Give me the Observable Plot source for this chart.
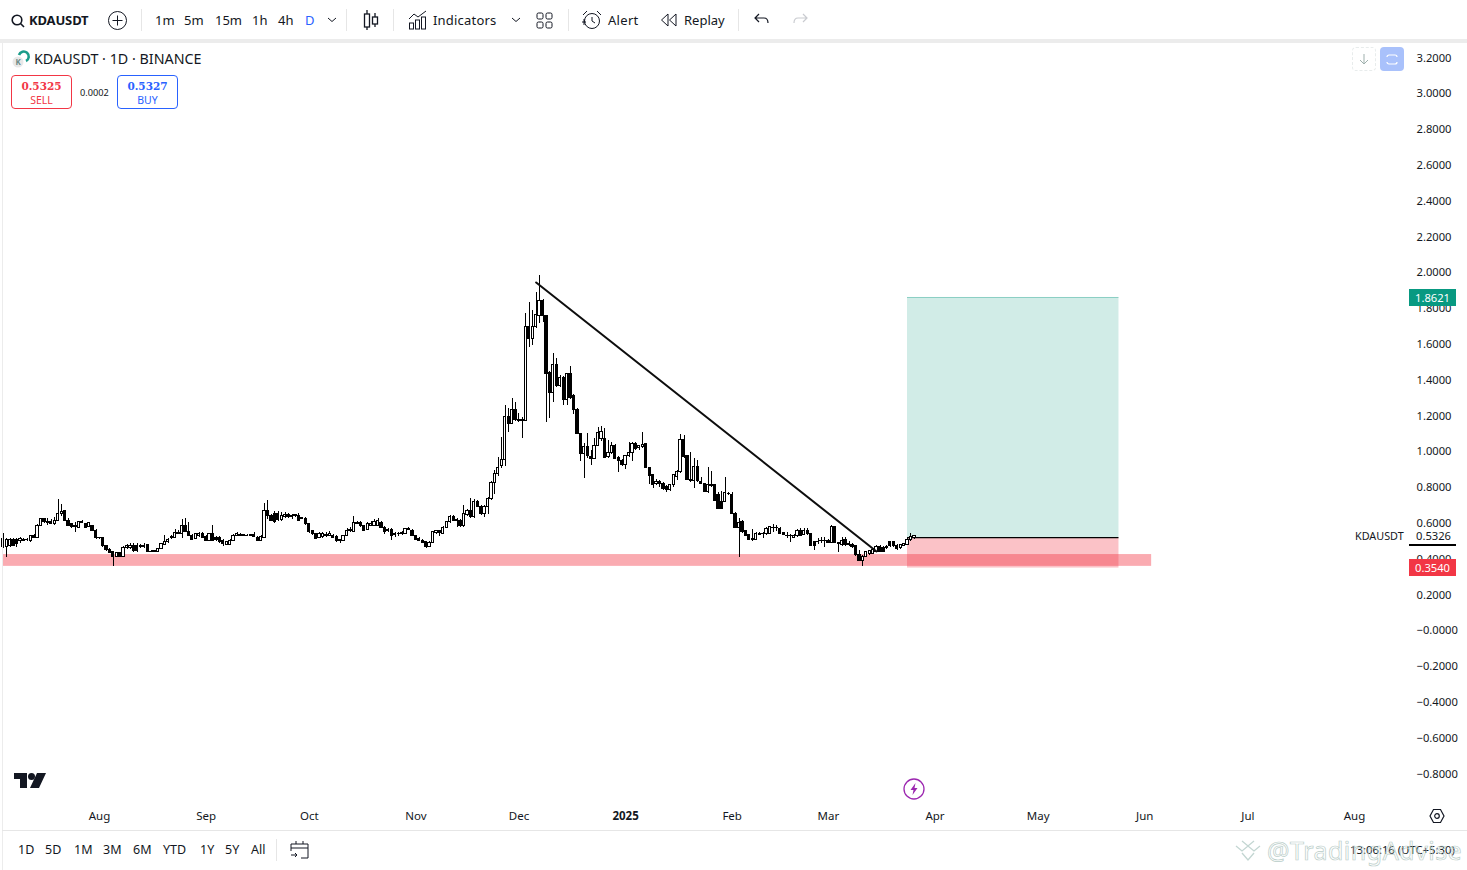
<!DOCTYPE html>
<html><head><meta charset="utf-8">
<script src="https://cdn.jsdelivr.net/npm/d3@7"></script>
<script src="https://cdn.jsdelivr.net/npm/@observablehq/plot@0.6"></script>
<style>
html,body{margin:0;padding:0;background:#fff;overflow:hidden}
body{position:relative;width:1467px;height:870px;font-family:"Noto Sans",sans-serif;color:#131722}
#chart{position:absolute;left:0;top:42px}
.t{position:absolute;white-space:nowrap;font-size:13px;line-height:16px;transform:translateY(-50%);z-index:3}
.sep{position:absolute;background:#e6e6e6;width:1px;z-index:3}
.ic{position:absolute;z-index:3;overflow:visible}
.box{position:absolute;z-index:3;box-sizing:border-box;border-radius:4px;text-align:center;width:61px;height:34px;top:75px;background:#fff}
.lab{position:absolute;left:1409px;width:47px;height:17px;color:#fff;font-size:11.2px;line-height:17px;text-align:center;z-index:3}
</style></head><body>
<div style="position:absolute;left:0;top:39px;width:1467px;height:4px;background:#ececec;z-index:2"></div>
<div style="position:absolute;left:2px;top:43px;width:1px;height:827px;background:#ececec;z-index:2"></div>
<div style="position:absolute;left:2px;top:830px;width:1465px;height:1px;background:#e6e6e6;z-index:2"></div>
<div id="chart"></div>

<svg class="ic" style="left:10px;top:13px" width="16" height="16" fill="none" stroke="#131722" stroke-width="1.6"><circle cx="7" cy="7" r="4.8"/><path d="M10.5 10.5 14 14"/></svg>
<div class="t" style="left:29px;top:20px;font-weight:700;font-size:13px;letter-spacing:-.15px">KDAUSDT</div>
<svg class="ic" style="left:107px;top:10px" width="21" height="21" fill="none" stroke="#131722"><circle cx="10.5" cy="10.5" r="9"/><path d="M10.5 5.5v10M5.5 10.5h10"/></svg>
<div class="sep" style="left:141px;top:9px;height:22px"></div>
<div class="t" style="left:155px;top:20px">1m</div>
<div class="t" style="left:184px;top:20px">5m</div>
<div class="t" style="left:215px;top:20px">15m</div>
<div class="t" style="left:252px;top:20px">1h</div>
<div class="t" style="left:278px;top:20px">4h</div>
<div class="t" style="left:305px;top:20px;color:#2962ff">D</div>
<svg class="ic" style="left:327px;top:17px" width="10" height="6" fill="none" stroke="#131722"><path d="M1 1l4 3.5L9 1"/></svg>
<div class="sep" style="left:346px;top:9px;height:22px"></div>
<svg class="ic" style="left:363px;top:10px" width="16" height="21" fill="none" stroke="#131722" stroke-width="1.3"><path d="M4 0v4M4 17v3M12 3v4M12 14v3"/><rect x="1.5" y="4" width="5" height="13"/><rect x="9.5" y="7" width="5" height="7"/></svg>
<div class="sep" style="left:393px;top:9px;height:22px"></div>
<svg class="ic" style="left:408px;top:10px" width="20" height="20" fill="none" stroke="#131722"><path d="M1 9l5-5 4 3 8-6"/><rect x="1.5" y="13" width="4" height="6"/><rect x="7.5" y="10" width="4" height="9"/><rect x="13.5" y="7" width="4" height="12"/></svg>
<div class="t" style="left:433px;top:20px;letter-spacing:.2px">Indicators</div>
<svg class="ic" style="left:511px;top:17px" width="10" height="6" fill="none" stroke="#131722"><path d="M1 1l4 3.5L9 1"/></svg>
<svg class="ic" style="left:536px;top:12px" width="18" height="17" fill="none" stroke="#131722"><rect x="1" y="1" width="6" height="6" rx="1.5"/><rect x="10" y="1" width="6" height="6" rx="1.5"/><rect x="1" y="10" width="6" height="6" rx="1.5"/><rect x="10" y="10" width="6" height="6" rx="1.5"/></svg>
<div class="sep" style="left:568px;top:9px;height:22px"></div>
<svg class="ic" style="left:581px;top:9px" width="22" height="22" fill="none" stroke="#131722"><circle cx="11" cy="12" r="7.5"/><path d="M11 8v4l3 2M2 6l4-4M16 2l4 4M1 13h4M3 10v6"/></svg>
<div class="t" style="left:608px;top:20px;letter-spacing:.3px">Alert</div>
<svg class="ic" style="left:660px;top:13px" width="18" height="14" fill="none" stroke="#131722"><path d="M8 1 1.5 7 8 13zM16 1 9.5 7 16 13z"/></svg>
<div class="t" style="left:684px;top:20px">Replay</div>
<div class="sep" style="left:738px;top:9px;height:22px"></div>
<svg class="ic" style="left:754px;top:13px" width="16" height="13" fill="none" stroke="#131722" stroke-width="1.2"><path d="M5 1 1 5l4 4M1 5h9c3 0 4 2 4 5"/></svg>
<svg class="ic" style="left:792px;top:13px" width="16" height="13" fill="none" stroke="#c9cbd0" stroke-width="1.2"><path d="M11 1l4 4-4 4M15 5H6C3 5 2 7 2 10"/></svg>

<svg class="ic" style="left:12px;top:50px" width="20" height="18"><circle cx="6" cy="12" r="5.5" fill="#e8e8e8"/><text x="3.5" y="15" font-size="8" font-weight="700" fill="#6b8a86">K</text><path d="M7 5a5 5 0 1 1 7 6" fill="none" stroke="#1b9c8a" stroke-width="2.6"/></svg>
<div class="t" style="left:34px;top:59px;font-size:14.3px">KDAUSDT · 1D · BINANCE</div>
<div class="box" style="left:11px;border:1px solid #f23645;color:#f23645"><div style="font:700 10.5px/16px 'DejaVu Serif',serif;margin-top:2px">0.5325</div><div style="font-size:10.5px;line-height:13px">SELL</div></div>
<div class="t" style="left:80px;top:92.5px;font-size:9.2px">0.0002</div>
<div class="box" style="left:117px;border:1px solid #2962ff;color:#2962ff"><div style="font:700 10.5px/16px 'DejaVu Serif',serif;margin-top:2px">0.5327</div><div style="font-size:10.5px;line-height:13px">BUY</div></div>

<div style="position:absolute;left:1352px;top:47px;width:24px;height:24px;box-sizing:border-box;border:1px dashed #e8ecec;border-radius:4px;z-index:3"></div>
<svg class="ic" style="left:1359px;top:54px" width="10" height="12" fill="none" stroke="#9fb0ad"><path d="M5 0v10M1 6l4 4 4-4"/></svg>
<div style="position:absolute;left:1380px;top:47px;width:24px;height:24px;background:#a9c1fb;border-radius:4px;z-index:3"></div>
<svg class="ic" style="left:1386px;top:54px" width="12" height="11" fill="none" stroke="#fff" stroke-width="1.2"><path d="M1 3a2 2 0 0 1 2-2h6a2 2 0 0 1 2 2M11 8a2 2 0 0 1-2 2H3a2 2 0 0 1-2-2"/></svg>

<div class="lab" style="top:289px;background:#089981">1.8621</div>
<div class="lab" style="top:559px;background:#f23645">0.3540</div>
<div class="t" style="left:1355px;top:536px;font-size:10.8px">KDAUSDT</div>
<div class="t" style="left:1416px;top:536px;font-size:11.2px">0.5326</div>
<div style="position:absolute;left:1409px;top:544px;width:47px;height:2px;background:#000;z-index:3"></div>

<svg class="ic" style="left:14px;top:773px" width="32" height="16" fill="#131722"><path d="M0 0h13v15H6V6H0z"/><circle cx="17.5" cy="3.5" r="3.5"/><path d="M23 0h9l-7 15h-9z"/></svg>
<svg class="ic" style="left:903px;top:778px" width="22" height="22" fill="none" stroke="#9c27b0" stroke-width="1.3"><circle cx="11" cy="11" r="10"/><path d="M12.5 5 7.5 12h3l-1 5 5-7h-3z" fill="#9c27b0" stroke="none"/></svg>
<svg class="ic" style="left:1429px;top:808px" width="16" height="16" fill="none" stroke="#131722" stroke-width="1.2"><path d="M4.5 1.5h7L15 8l-3.500 6.500h-7L1 8z"/><circle cx="8" cy="8" r="2.300"/></svg>

<div class="t" style="left:18px;top:850px;font-size:12.5px">1D</div>
<div class="t" style="left:45px;top:850px;font-size:12.5px">5D</div>
<div class="t" style="left:74px;top:850px;font-size:12.5px">1M</div>
<div class="t" style="left:103px;top:850px;font-size:12.5px">3M</div>
<div class="t" style="left:133px;top:850px;font-size:12.5px">6M</div>
<div class="t" style="left:163px;top:850px;font-size:12.5px">YTD</div>
<div class="t" style="left:200px;top:850px;font-size:12.5px">1Y</div>
<div class="t" style="left:225px;top:850px;font-size:12.5px">5Y</div>
<div class="t" style="left:251px;top:850px;font-size:12.5px">All</div>
<div class="sep" style="left:276px;top:839px;height:22px"></div>
<svg class="ic" style="left:290px;top:840px" width="20" height="20" fill="none" stroke="#131722"><path d="M1 11V4h17v14h-7M1 8h17M6 1v3M13 1v3M1 15h6M5 13l2 2-2 2"/></svg>

<svg class="ic" style="left:1235px;top:838px;z-index:4" width="28" height="24" fill="none" stroke="#c3d6d2" stroke-width="1.3"><path d="M1 8l6 5 6-5 6 5 6-5M7 3l6 5 6-5M7 15l6 7 6-7"/></svg>
<div class="t" style="left:1350px;top:850px;font-size:11.3px;z-index:3">13:06:16 (UTC+5:30)</div>
<div class="t" style="left:1267px;top:850px;font-size:25px;line-height:28px;color:transparent;-webkit-text-stroke:.7px #b9cdc8;z-index:4;letter-spacing:.5px">@TradingAdvise</div>

<script>
const startDate = "2024-07-04";
const opens = [
.467,.467,.471,.508,.508,.499,.504,.506,.504,.532,
.519,.588,.622,.607,.607,.594,.612,.653,.667,.616,
.594,.583,.575,.603,.598,.579,.583,.560,.519,.516,
.471,.454,.439,.411,.434,.411,.462,.462,.473,.471,
.467,.469,.477,.443,.441,.443,.458,.478,.497,.519,
.519,.547,.542,.588,.551,.532,.512,.532,.542,.523,
.501,.538,.519,.519,.504,.480,.480,.501,.532,.529,
.534,.529,.531,.536,.519,.504,.518,.672,.644,.650,
.650,.620,.635,.648,.640,.642,.644,.629,.627,.598,
.556,.542,.518,.523,.536,.531,.531,.523,.506,.501,
.529,.558,.551,.603,.601,.585,.564,.587,.585,.588,
.603,.575,.557,.564,.534,.540,.542,.542,.564,.560,
.529,.514,.504,.495,.467,.491,.549,.555,.542,.575,
.607,.638,.616,.616,.583,.649,.668,.635,.722,.694,
.653,.694,.737,.827,.877,.923,.955,1.197,1.156,1.231,
1.175,1.170,1.171,1.700,1.631,1.696,1.761,1.840,1.756,1.441,
1.328,1.486,1.370,1.413,1.287,1.436,1.309,1.235,1.100,.989,
1.026,.970,.961,1.035,1.072,1.072,.970,.992,1.035,.966,
.948,.925,.974,.994,1.044,1.020,1.026,1.041,.910,.868,
.821,.832,.821,.802,.784,.812,.862,.888,1.067,.974,
.843,.836,.914,.834,.821,.778,.817,.815,.760,.719,
.719,.767,.761,.653,.573,.607,.555,.536,.514,.510,
.536,.542,.538,.542,.572,.575,.570,.545,.532,.532,
.519,.527,.555,.536,.560,.542,.495,.497,.499,.501,
.503,.490,.579,.490,.477,.508,.486,.480,.471,.426,
.389,.412,.430,.430,.439,.467,.463,.463,.495,.495,
.473,.462,.475,.482,.508,.517];
const closes = [
.514,.508,.508,.476,.486,.514,.508,.510,.527,.519,
.588,.625,.607,.601,.598,.612,.653,.665,.612,.588,
.579,.579,.609,.610,.573,.601,.560,.519,.516,.471,
.449,.434,.415,.434,.411,.464,.471,.473,.445,.445,
.471,.473,.441,.439,.445,.458,.486,.497,.508,.523,
.547,.542,.588,.551,.532,.510,.538,.538,.519,.501,
.538,.504,.508,.495,.486,.495,.504,.532,.538,.534,
.529,.532,.536,.523,.501,.523,.672,.640,.616,.607,
.620,.644,.648,.635,.634,.647,.616,.623,.598,.551,
.538,.514,.542,.542,.531,.538,.518,.501,.499,.529,
.560,.564,.601,.598,.583,.560,.598,.598,.607,.611,
.575,.553,.564,.527,.542,.542,.547,.566,.570,.529,
.508,.501,.491,.467,.493,.551,.555,.549,.575,.607,
.638,.616,.621,.583,.653,.668,.635,.722,.694,.650,
.694,.737,.827,.877,.910,.955,1.197,1.156,1.231,1.175,
1.170,1.175,1.700,1.631,1.700,1.767,1.840,1.761,1.436,1.328,
1.486,1.370,1.413,1.287,1.436,1.301,1.231,1.100,.989,1.026,
.974,.957,1.035,1.106,1.110,.966,.994,1.035,.961,.948,
.925,.974,.994,1.044,1.013,1.030,1.039,.910,.864,.812,
.832,.821,.793,.784,.815,.868,.888,1.067,.970,.843,
.836,.914,.836,.821,.778,.812,.810,.724,.681,.681,
.771,.762,.653,.573,.603,.551,.532,.508,.505,.542,
.542,.538,.570,.579,.575,.572,.542,.536,.529,.527,
.532,.555,.532,.560,.538,.473,.473,.495,.502,.504,
.490,.579,.490,.486,.504,.477,.480,.467,.421,.389,
.415,.439,.445,.452,.467,.439,.439,.467,.471,.471,
.458,.477,.486,.508,.523,.527];
const highs = [
.542,.514,.514,.514,.514,.520,.514,.516,.530,.536,
.592,.630,.630,.625,.620,.635,.734,.706,.672,.625,
.600,.607,.612,.615,.600,.606,.590,.565,.522,.520,
.475,.460,.445,.440,.440,.470,.480,.490,.485,.490,
.480,.485,.480,.450,.450,.462,.490,.532,.515,.530,
.564,.560,.620,.625,.607,.540,.545,.550,.550,.530,
.545,.588,.525,.525,.510,.500,.510,.540,.551,.545,
.540,.540,.540,.551,.525,.530,.709,.728,.650,.665,
.665,.660,.660,.655,.650,.652,.655,.635,.635,.600,
.560,.545,.550,.550,.550,.555,.540,.530,.510,.535,
.570,.575,.638,.610,.610,.590,.605,.610,.620,.626,
.610,.580,.570,.570,.550,.550,.555,.570,.575,.565,
.535,.520,.510,.500,.500,.555,.560,.560,.580,.612,
.645,.645,.630,.620,.700,.675,.737,.735,.730,.700,
.700,.745,.835,.895,.970,1.080,1.259,1.240,1.296,1.277,
1.212,1.190,1.774,1.836,1.789,1.892,1.985,1.850,1.760,1.450,
1.547,1.520,1.425,1.420,1.440,1.477,1.320,1.240,1.105,1.048,
1.100,1.007,1.072,1.138,1.143,1.130,1.063,1.050,1.040,.975,
.955,.980,1.050,1.050,1.050,1.035,1.106,1.045,.915,.870,
.845,.840,.830,.810,.820,.875,.895,1.097,1.090,.980,
.998,.961,.950,.858,.825,.910,.890,.820,.770,.780,
.858,.775,.770,.660,.625,.615,.560,.540,.564,.550,
.550,.550,.575,.585,.592,.590,.575,.550,.551,.540,
.540,.565,.570,.570,.570,.545,.500,.515,.520,.520,
.510,.590,.585,.495,.520,.523,.500,.485,.475,.449,
.420,.445,.450,.460,.475,.475,.470,.475,.500,.500,
.480,.480,.490,.515,.545,.535];
const lows = [
.458,.411,.467,.470,.467,.490,.499,.501,.495,.516,
.516,.585,.600,.588,.592,.590,.610,.640,.610,.585,
.570,.551,.570,.600,.570,.575,.555,.510,.510,.467,
.445,.430,.359,.408,.408,.408,.455,.455,.440,.440,
.460,.462,.438,.435,.438,.440,.455,.475,.490,.510,
.515,.540,.514,.548,.530,.505,.508,.520,.515,.498,
.498,.500,.500,.490,.471,.478,.478,.498,.528,.525,
.525,.525,.527,.520,.498,.500,.515,.620,.610,.600,
.610,.610,.625,.630,.620,.635,.610,.620,.590,.545,
.535,.510,.515,.515,.520,.525,.515,.495,.490,.498,
.525,.550,.548,.595,.578,.555,.560,.580,.580,.580,
.570,.540,.550,.505,.520,.525,.530,.540,.560,.525,
.505,.498,.485,.458,.465,.488,.540,.527,.540,.570,
.600,.610,.579,.575,.575,.640,.630,.630,.690,.645,
.635,.650,.730,.760,.860,.905,.920,1.110,1.150,1.170,
1.165,1.072,1.168,1.581,1.594,1.690,1.715,1.724,1.165,1.184,
1.277,1.360,1.360,1.259,1.260,1.290,1.210,1.095,.948,.849,
.965,.923,.955,1.030,1.060,.960,.960,.985,.955,.883,
.920,.899,.970,.948,1.010,1.010,1.020,.905,.820,.793,
.810,.800,.785,.770,.780,.800,.840,.880,.960,.840,
.830,.793,.830,.815,.771,.765,.800,.720,.675,.675,
.715,.755,.650,.570,.411,.545,.530,.505,.500,.505,
.530,.514,.535,.540,.551,.555,.540,.530,.514,.495,
.515,.520,.530,.530,.535,.470,.449,.480,.485,.467,
.485,.485,.485,.440,.470,.470,.470,.460,.415,.385,
.359,.410,.420,.425,.435,.435,.435,.455,.465,.465,
.450,.455,.470,.475,.500,.510];

const priceTicks = [3.2,3,2.8,2.6,2.4,2.2,2,1.8,1.6,1.4,1.2,1,.8,.6,.4,.2,0,-.2,-.4,-.6,-.8];
const monthTicks = ["2024-08-01","2024-09-01","2024-10-01","2024-11-01","2024-12-01","2025-02-01","2025-03-01","2025-04-01","2025-05-01","2025-06-01","2025-07-01","2025-08-01"];
const monthLabels = ["Aug","Sep","Oct","Nov","Dec","Feb","Mar","Apr","May","Jun","Jul","Aug"];
const yearTick = ["2025-01-01"];
const yearLabel = ["2025"];
const trendDates = ["2024-12-06","2025-03-15"];
const trendPrices = [1.946,0.443];
const zoneDates = ["2024-07-04","2025-06-03"];
const zonePrices = [0.426,0.360];
const positionDates = ["2025-03-24","2025-05-24T12:00"];
const targetPrice = 1.8621, entryPrice = 0.520, stopPrice = 0.3505;

const D = s => new Date(s.length===10 ? s : s+"Z");
const candles = opens.map((o,i)=>({date:d3.utcDay.offset(D(startDate),i),o,c:closes[i],h:highs[i],l:lows[i]}));
const halfDay = 0.33*864e5;
const plot = Plot.plot({
  width:1467,height:788,marginTop:0,marginRight:0,marginBottom:23,marginLeft:0,
  style:{background:"transparent",fontFamily:"'Noto Sans',sans-serif",fontSize:"12px",color:"#131722",overflow:"visible"},
  x:{type:"utc",domain:[D("2024-08-01"),D("2025-08-01")],range:[99,1354]},
  y:{domain:[-0.8,3.2],range:[731.5,15.5]},
  marks:[
    Plot.rect([0],{x1:D(zoneDates[0]),x2:D(zoneDates[1]),y1:zonePrices[0],y2:zonePrices[1],fill:"#f23645",fillOpacity:.42}),
    Plot.rect([0],{x1:D(positionDates[0]),x2:D(positionDates[1]),y1:entryPrice,y2:targetPrice,fill:"#089981",fillOpacity:.19}),
    Plot.rect([0],{x1:D(positionDates[0]),x2:D(positionDates[1]),y1:stopPrice,y2:entryPrice,fill:"#f23645",fillOpacity:.3}),
    Plot.ruleY([targetPrice],{x1:D(positionDates[0]),x2:D(positionDates[1]),stroke:"#089981",strokeOpacity:.35,strokeWidth:1}),
    Plot.ruleY([entryPrice],{x1:D(positionDates[0]),x2:D(positionDates[1]),stroke:"#000",strokeWidth:1.2}),
    Plot.ruleX(candles,{x:"date",y1:"l",y2:"h",stroke:"#000",strokeWidth:1,shapeRendering:"crispEdges"}),
    Plot.rect(candles,{x1:d=>new Date(+d.date-halfDay),x2:d=>new Date(+d.date+halfDay),y1:"o",y2:"c",
      fill:d=>d.c>=d.o?"#fff":"#000",stroke:"#000",strokeWidth:1,shapeRendering:"crispEdges"}),
    Plot.line(trendDates.map((d,i)=>({d:D(d),p:trendPrices[i]})),{x:"d",y:"p",stroke:"#0d0d0d",strokeWidth:2}),
    Plot.axisY(priceTicks,{anchor:"right",tickSize:0,label:null,textAnchor:"start",dx:-60,
      tickFormat:v=>(v<=0?"\u2212":"")+Math.abs(v).toFixed(4),fontSize:11.2,fill:"#131722"}),
    Plot.axisX(monthTicks.map(D),{anchor:"bottom",tickSize:0,label:null,tickPadding:4,
      tickFormat:d=>monthLabels[monthTicks.findIndex(m=>+D(m)===+d)],fontSize:11.5,fill:"#131722"}),
    Plot.axisX(yearTick.map(D),{anchor:"bottom",tickSize:0,label:null,tickPadding:4,
      tickFormat:()=>yearLabel[0],fontSize:11.5,fontWeight:700,fill:"#131722"})
  ]
});
document.getElementById("chart").append(plot);
</script>
</body></html>
